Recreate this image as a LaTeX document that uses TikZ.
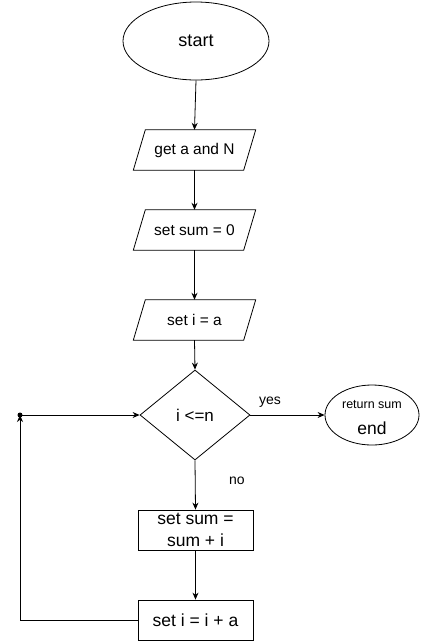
\documentclass[tikz,border=0pt]{standalone}
\usepackage{fontspec}
\setmainfont{Liberation Sans}
\usetikzlibrary{shapes.geometric,arrows.meta}
\newcommand{\slantframe}[1]{%
  \draw[line width=0.8pt] ([xshift=6pt]#1.north west) -- ([xshift=6pt]#1.north east)
    -- ([xshift=-6pt]#1.south east) -- ([xshift=-6pt]#1.south west) -- cycle;}
\begin{document}
\begin{tikzpicture}[x=1pt,y=-1pt,
  line/.style={draw=black,line width=0.8pt},
  arr/.style={line,-{Stealth[length=7pt,width=6pt]}},
  para/.style={rectangle,minimum width=110pt,minimum height=40pt,inner sep=0pt,font=\fontsize{15.5}{18}\selectfont},
  boxs/.style={rectangle,draw,line width=0.8pt,minimum width=115pt,minimum height=40pt,inner sep=0pt,align=center,font=\fontsize{17.5}{21.5}\selectfont},
  ell/.style={ellipse,draw,line width=0.8pt,inner sep=0pt},
  lbl/.style={font=\fontsize{14}{16}\selectfont,inner sep=0pt}]
\useasboundingbox (0,0) rectangle (421,641);
\node[ell,minimum width=146pt,minimum height=78pt,font=\fontsize{18}{21}\selectfont] (start) at (196,41) {start};
\node[para] (p1) at (194.5,150) {get a and N};
\node[para] (p2) at (194.5,230) {set sum = 0};
\node[para] (p3) at (194.5,320) {set i = a};
\slantframe{p1}
\slantframe{p2}
\slantframe{p3}
\node[diamond,draw,line width=0.8pt,minimum width=110pt,minimum height=90pt,inner sep=0pt,aspect=1.22,font=\fontsize{17}{20}\selectfont] (dec) at (195,415) {i <=n};
\node[ell,minimum width=94pt,minimum height=60pt] (end) at (372,415) {};
\node[inner sep=0pt,font=\fontsize{12.5}{14}\selectfont] (rs) at (372,404.5) {return sum};
\node[inner sep=0pt,font=\fontsize{17.5}{20}\selectfont] (en) at (372,428) {end};
\node[boxs] (b1) at (195.5,530) {set sum =\\sum + i};
\node[boxs] (b2) at (195.5,620) {set i = i + a};
\coordinate (dot) at (20,415);
\coordinate (corner) at (20,620);
\node[lbl] (yes) at (270,402) {yes};
\node[lbl] (no) at (237,481) {no};
\draw[arr] (start.south) -- (p1.north);
\draw[arr] (p1.south) -- (p2.north);
\draw[arr] (p2.south) -- (p3.north);
\draw[arr] (p3.south) -- (dec.north);
\draw[arr] (dec.east) -- (end.west);
\draw[arr] (dec.south) -- (b1.north);
\draw[arr] (b1.south) -- (b2.north);
\draw[arr] (b2.west) -- (corner) -- (dot);
\draw[arr] (dot) -- (dec.west);
\fill (dot) circle (2.5pt);
\end{tikzpicture}
\end{document}
